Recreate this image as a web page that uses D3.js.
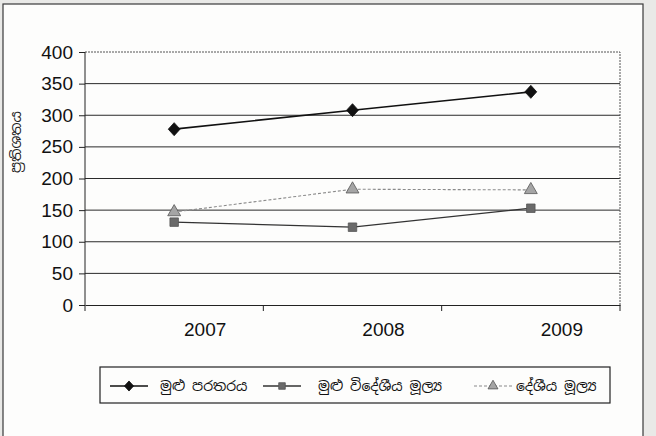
<!DOCTYPE html>
<html>
<head>
<meta charset="utf-8">
<script src="https://cdn.jsdelivr.net/npm/d3@7"></script>
<style>
  html, body { margin: 0; padding: 0; background: #e9e9e7; }
  svg { display: block; }
</style>
</head>
<body>
<svg id="chart" width="656" height="436"></svg>
<script>
const categories = ["2007", "2008", "2009"];
const seriesNames = ["මුළු පරතරය", "මුළු විදේශීය මූල්‍ය", "දේශීය මූල්‍ය"];
const totalGap = [278, 308, 337];
const foreignFinance = [131, 123, 153];
const domesticFinance = [147, 183, 182];
const yTicks = [0, 50, 100, 150, 200, 250, 300, 350, 400];
const yTitle = "ප්‍රතිශතය";

const font = "'Liberation Sans', Arial, sans-serif";
const sinhalaFont = "'Noto Sans Sinhala', 'Iskoola Pota', 'Noto Sans', sans-serif";

const svg = d3.select("#chart");
svg.append("rect").attr("x", 3).attr("y", 4).attr("width", 640).attr("height", 440)
  .attr("fill", "#fdfdfc").attr("stroke", "#3a3a3a").attr("stroke-width", 1.2);

const L = 85, R = 620, T = 52, B = 305;
const x = d3.scaleBand().domain(categories).range([L, R]).padding(0);
const y = d3.scaleLinear().domain([0, 400]).range([B, T]);

const g = svg.append("g");

g.selectAll("line.grid").data(yTicks.filter(d => d > 0 && d < 400)).enter().append("line")
  .attr("x1", L).attr("x2", R).attr("y1", d => y(d)).attr("y2", d => y(d))
  .attr("stroke", "#2a2a2a").attr("stroke-width", 1);

g.append("path").attr("d", `M${L},${y(400)}H${R}V${B}`)
  .attr("fill", "none").attr("stroke", "#555").attr("stroke-width", 1).attr("stroke-dasharray", "2,1");

const yAxis = d3.axisLeft(y).tickValues(yTicks).tickSize(6).tickPadding(6);
const ya = g.append("g").attr("transform", `translate(${L},0)`).call(yAxis);
ya.select(".domain").attr("stroke", "#222").attr("d", `M-0,${B}V${T}`);
ya.selectAll(".tick line").attr("stroke", "#222");
ya.selectAll(".tick text").attr("font-family", font).attr("font-size", 19).attr("fill", "#111");

const xAxis = d3.axisBottom(x).tickSize(0).tickPadding(18);
const xa = g.append("g").attr("transform", `translate(0,${B})`).call(xAxis);
xa.select(".domain").attr("stroke", "#222");
xa.selectAll(".tick text").attr("font-family", font).attr("font-size", 19).attr("fill", "#111")
  .attr("dx", 31);
g.selectAll("line.xt").data(categories.slice(1).concat(["__end"])).enter().append("line")
  .attr("x1", d => d === "__end" ? R : x(d)).attr("x2", d => d === "__end" ? R : x(d))
  .attr("y1", B).attr("y2", B + 6).attr("stroke", "#222");
g.append("line").attr("x1", L).attr("x2", L).attr("y1", B).attr("y2", B + 6).attr("stroke", "#222");

svg.append("text").attr("transform", `translate(21,142) rotate(-90)`)
  .attr("text-anchor", "middle").attr("font-family", sinhalaFont).attr("font-size", 14)
  .attr("fill", "#222").text(yTitle);

const wideDiamond = {
  draw(ctx, size) {
    const r = Math.sqrt(size) / 2;
    ctx.moveTo(0, -r * 1.1);
    ctx.lineTo(r, 0);
    ctx.lineTo(0, r * 1.1);
    ctx.lineTo(-r, 0);
    ctx.closePath();
  }
};

const cx = d => x(d) + x.bandwidth() / 2;
const series = [
  { name: seriesNames[0], values: totalGap, stroke: "#111", width: 1.6, dash: null, sym: wideDiamond, fill: "#111", size: 140 },
  { name: seriesNames[1], values: foreignFinance, stroke: "#333", width: 1.3, dash: null, sym: d3.symbolSquare, fill: "#6a6a6a", size: 72 },
  { name: seriesNames[2], values: domesticFinance, stroke: "#8a8a8a", width: 1.1, dash: "3,2", sym: d3.symbolTriangle, fill: "#a5a5a5", size: 72 }
];

const line = d3.line().x((v, i) => cx(categories[i])).y(v => y(v));
series.forEach((s, si) => {
  g.append("path").datum(s.values).attr("d", line).attr("fill", "none")
    .attr("stroke", s.stroke).attr("stroke-width", s.width).attr("stroke-dasharray", s.dash);
  g.selectAll(null).data(s.values).enter().append("path")
    .attr("d", d3.symbol().type(s.sym).size(s.size))
    .attr("transform", (v, i) => `translate(${cx(categories[i])},${y(v)})`)
    .attr("fill", s.fill).attr("stroke", si === 0 ? "#111" : "#555").attr("stroke-width", 0.8);
});

const lg = svg.append("g");
lg.append("rect").attr("x", 100).attr("y", 367).attr("width", 510).attr("height", 36)
  .attr("fill", "#fdfdfc").attr("stroke", "#222").attr("stroke-width", 1.2);
const legendX = [110, 263, 474];
const textX = [160, 318, 516];
const ly = 386;
series.forEach((s, i) => {
  lg.append("line").attr("x1", legendX[i]).attr("x2", legendX[i] + 38).attr("y1", ly).attr("y2", ly)
    .attr("stroke", s.stroke).attr("stroke-width", s.width).attr("stroke-dasharray", s.dash);
  lg.append("path").attr("d", d3.symbol().type(s.sym).size(s.size * 0.6))
    .attr("transform", `translate(${legendX[i] + 19},${ly})`)
    .attr("fill", s.fill).attr("stroke", i === 0 ? "#111" : "#555").attr("stroke-width", 0.8);
  lg.append("text").attr("x", textX[i]).attr("y", ly).attr("dominant-baseline", "central")
    .attr("font-family", sinhalaFont).attr("font-size", 14).attr("fill", "#111").text(s.name);
});
</script>
</body>
</html>
